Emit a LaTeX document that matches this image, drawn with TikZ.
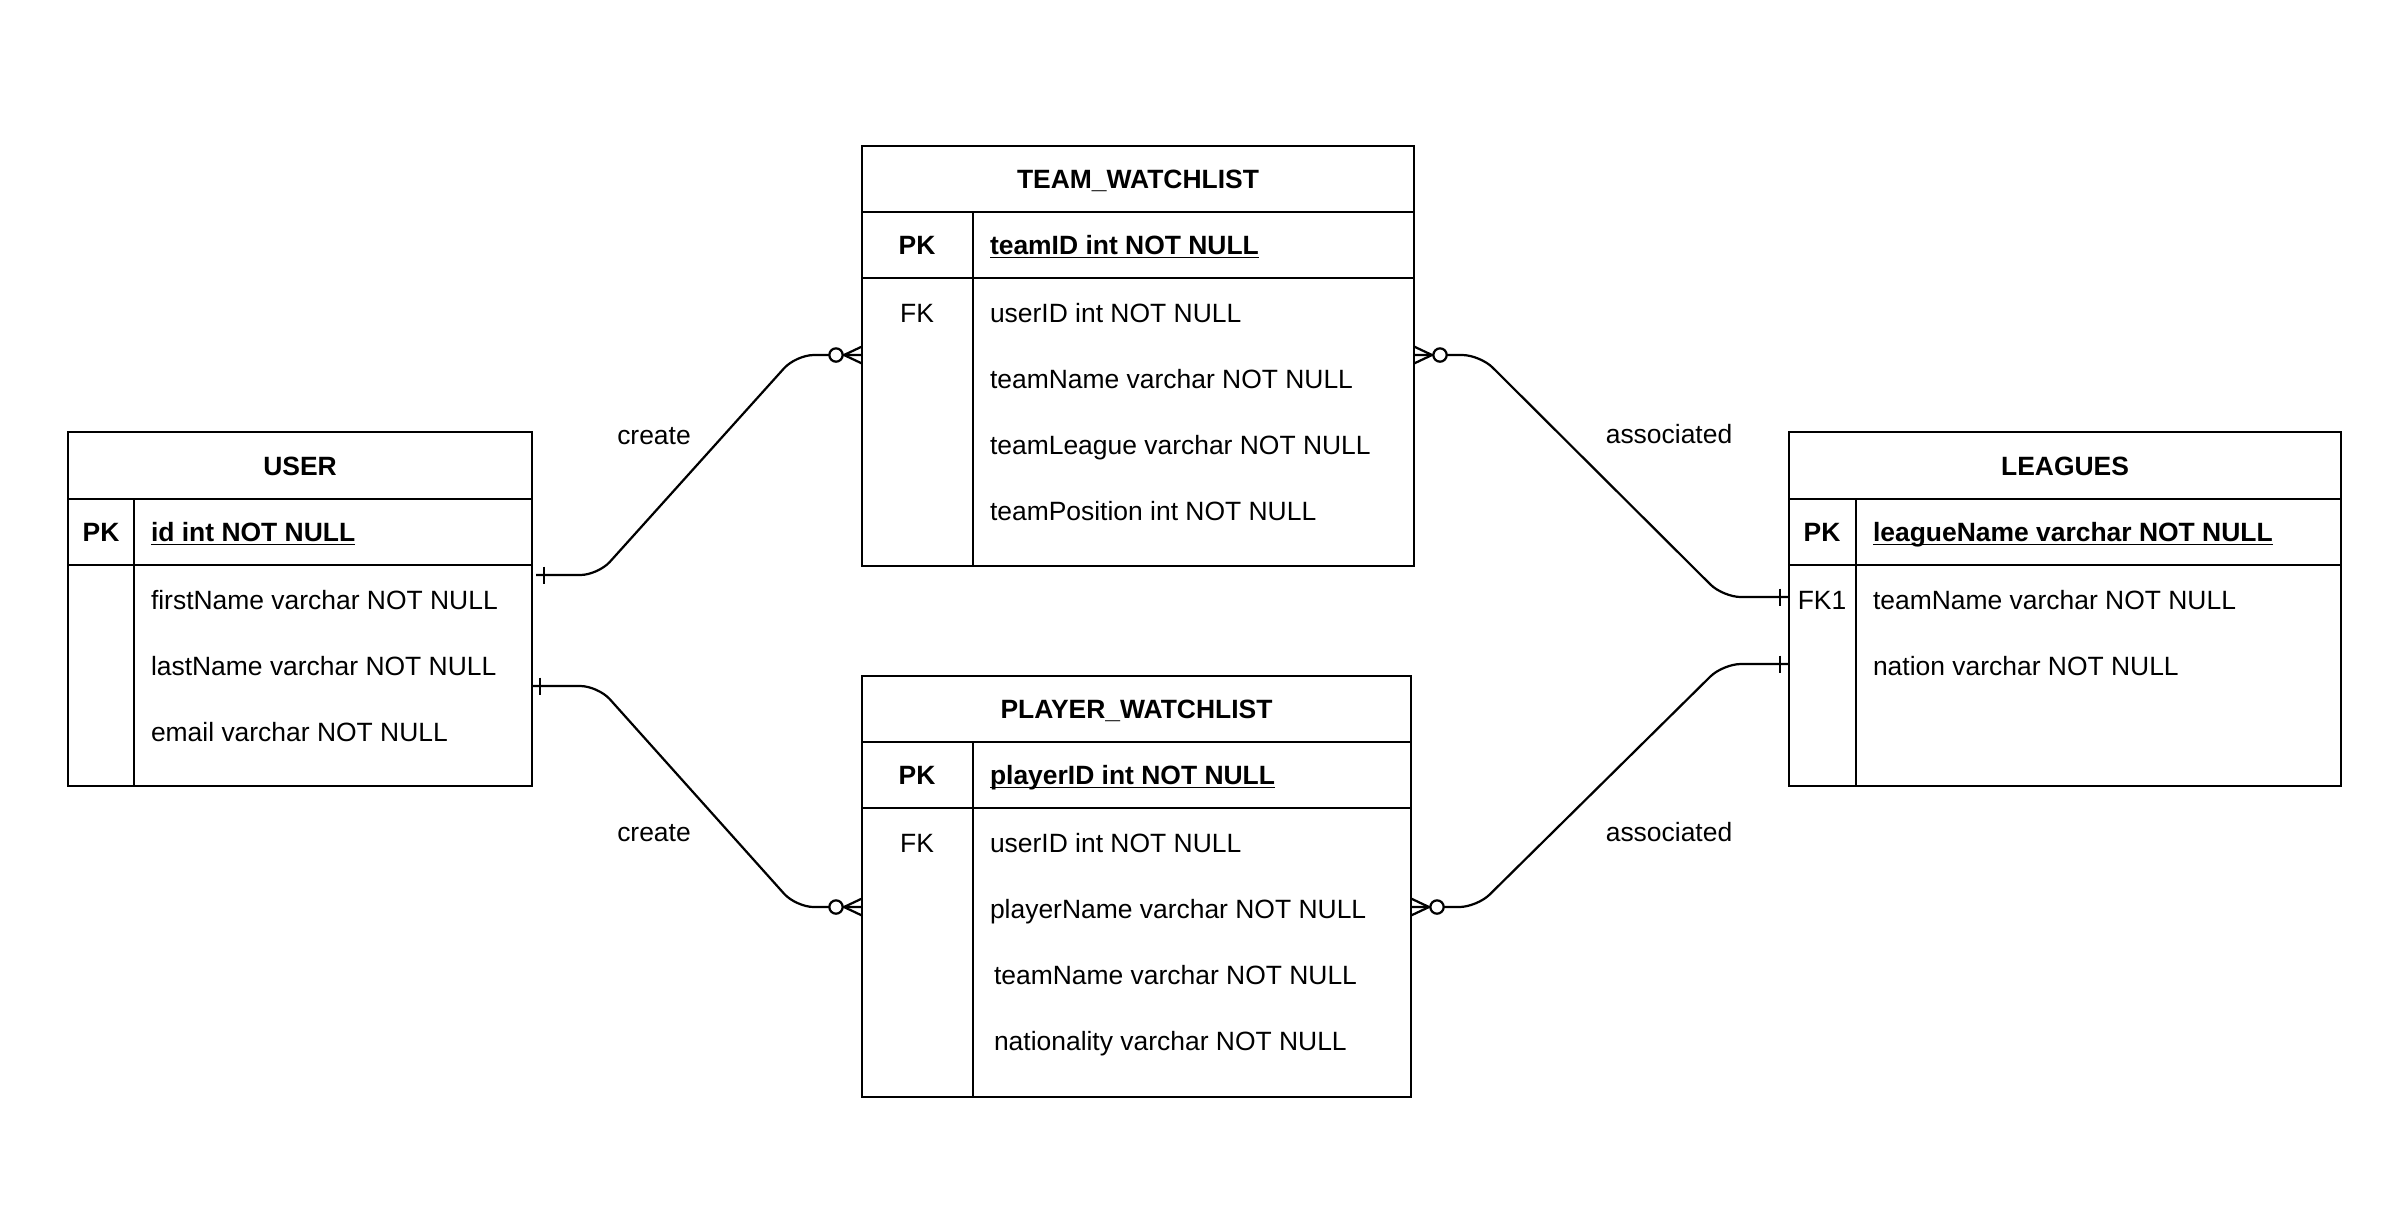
\documentclass[tikz,border=0pt]{standalone}
\usepackage{fontspec}
\setmainfont{Liberation Sans}
\usetikzlibrary{calc}
\newcommand\ulfield[1]{\setbox0\hbox{#1}\rlap{\rule[-1.7pt]{\wd0}{0.8pt}}\box0}
\begin{document}
\begin{tikzpicture}[x=0.45pt,y=-0.45pt,
  every node/.style={inner sep=0pt, outer sep=0pt, font=\fontsize{11.9}{14}\selectfont, text height=8.6pt, text depth=0pt},
  tbl/.style={draw, line width=1pt, anchor=north west},
  tline/.style={line width=1pt},
  ttl/.style={font=\fontsize{11.9}{14}\selectfont\bfseries},
  keyb/.style={font=\fontsize{11.9}{14}\selectfont\bfseries},
  keyr/.style={},
  fld/.style={anchor=west},
  fldb/.style={anchor=west, font=\fontsize{11.9}{14}\selectfont\bfseries},
  conn/.style={line width=1pt, rounded corners=8pt},
  bar/.style={line width=1pt},
  crowfoot/.pic={
    \draw[line width=1pt] (0,-8.5) -- (-18,0) -- (0,8.5);
    \draw[line width=1pt, fill=white] (-26,0) circle[radius=3pt];
  }]
\fill[white] (0,0) rectangle (2408,1214);
\useasboundingbox (0,0) rectangle (2408,1214);

% ---------- USER ----------
\node[tbl, minimum width=208.8pt, minimum height=159.3pt] (user) at (68,432) {};
\draw[tline] (68,499) -- (532,499) (68,565) -- (532,565) (134,499) -- (134,786);
\node[ttl] (userT) at (300,466) {USER};
\node[keyb] (userPK) at (101,532) {PK};
\node[fldb] (userId) at (151,532) {\ulfield{id int NOT NULL}};
\node[fld] (userF1) at (151,600) {firstName varchar NOT NULL};
\node[fld] (userF2) at (151,666) {lastName varchar NOT NULL};
\node[fld] (userF3) at (151,732) {email varchar NOT NULL};

% ---------- TEAM_WATCHLIST ----------
\node[tbl, minimum width=248.4pt, minimum height=189pt] (team) at (862,146) {};
\draw[tline] (862,212) -- (1414,212) (862,278) -- (1414,278) (973,212) -- (973,566);
\node[ttl] (teamT) at (1138,179) {TEAM\_WATCHLIST};
\node[keyb] (teamPK) at (917,245) {PK};
\node[fldb] (teamId) at (990,245) {\ulfield{teamID int NOT NULL}};
\node[keyr] (teamFK) at (917,313) {FK};
\node[fld] (teamF1) at (990,313) {userID int NOT NULL};
\node[fld] (teamF2) at (990,379) {teamName varchar NOT NULL};
\node[fld] (teamF3) at (990,445) {teamLeague varchar NOT NULL};
\node[fld] (teamF4) at (990,511) {teamPosition int NOT NULL};

% ---------- PLAYER_WATCHLIST ----------
\node[tbl, minimum width=247.05pt, minimum height=189.45pt] (player) at (862,676) {};
\draw[tline] (862,742) -- (1411,742) (862,808) -- (1411,808) (973,742) -- (973,1097);
\node[ttl] (playerT) at (1136.5,709) {PLAYER\_WATCHLIST};
\node[keyb] (playerPK) at (917,775) {PK};
\node[fldb] (playerId) at (990,775) {\ulfield{playerID int NOT NULL}};
\node[keyr] (playerFK) at (917,843) {FK};
\node[fld] (playerF1) at (990,843) {userID int NOT NULL};
\node[fld] (playerF2) at (990,909) {playerName varchar NOT NULL};
\node[fld] (playerF3) at (994,975) {teamName varchar NOT NULL};
\node[fld] (playerF4) at (994,1041) {nationality varchar NOT NULL};

% ---------- LEAGUES ----------
\node[tbl, minimum width=248.4pt, minimum height=159.3pt] (leagues) at (1789,432) {};
\draw[tline] (1789,499) -- (2341,499) (1789,565) -- (2341,565) (1856,499) -- (1856,786);
\node[ttl] (leaguesT) at (2065,466) {LEAGUES};
\node[keyb] (leaguesPK) at (1822,532) {PK};
\node[fldb] (leaguesId) at (1873,532) {\ulfield{leagueName varchar NOT NULL}};
\node[keyr] (leaguesFK) at (1822,600) {FK1};
\node[fld] (leaguesF1) at (1873,600) {teamName varchar NOT NULL};
\node[fld] (leaguesF2) at (1873,666) {nation varchar NOT NULL};

% ---------- connectors ----------
\coordinate (c1a) at ($(user.north east)+(4,143)$);
\coordinate (c1b) at ($(team.north west)+(0,209)$);
\coordinate (c2a) at ($(user.north east)+(0,254)$);
\coordinate (c2b) at ($(player.north west)+(0,231)$);
\coordinate (c3a) at ($(team.north east)+(0,209)$);
\coordinate (c3b) at ($(leagues.north west)+(0,165)$);
\coordinate (c4a) at ($(player.north east)+(0,231)$);
\coordinate (c4b) at ($(leagues.north west)+(0,232)$);

\draw[conn] (c1a) -- ++(62,0) -- ($(c1b)+(-66,0)$) -- (c1b);
\draw[conn] (c2a) -- ++(66,0) -- ($(c2b)+(-66,0)$) -- (c2b);
\draw[conn] (c3a) -- ++(66,0) -- ($(c3b)+(-66,0)$) -- (c3b);
\draw[conn] (c4a) -- ++(66,0) -- ($(c4b)+(-66,0)$) -- (c4b);

\draw[bar] ($(c1a)+(8,-8.5)$) -- ++(0,17);
\draw[bar] ($(c2a)+(8,-8.5)$) -- ++(0,17);
\draw[bar] ($(c3b)+(-9,-8.5)$) -- ++(0,17);
\draw[bar] ($(c4b)+(-9,-8.5)$) -- ++(0,17);

\pic at (c1b) {crowfoot};
\pic at (c2b) {crowfoot};
\pic[xscale=-1] at (c3a) {crowfoot};
\pic[xscale=-1] at (c4a) {crowfoot};

\node (lbl1) at (654,435) {create};
\node (lbl2) at (654,832) {create};
\node (lbl3) at (1669,434) {associated};
\node (lbl4) at (1669,832) {associated};
\end{tikzpicture}
\end{document}
